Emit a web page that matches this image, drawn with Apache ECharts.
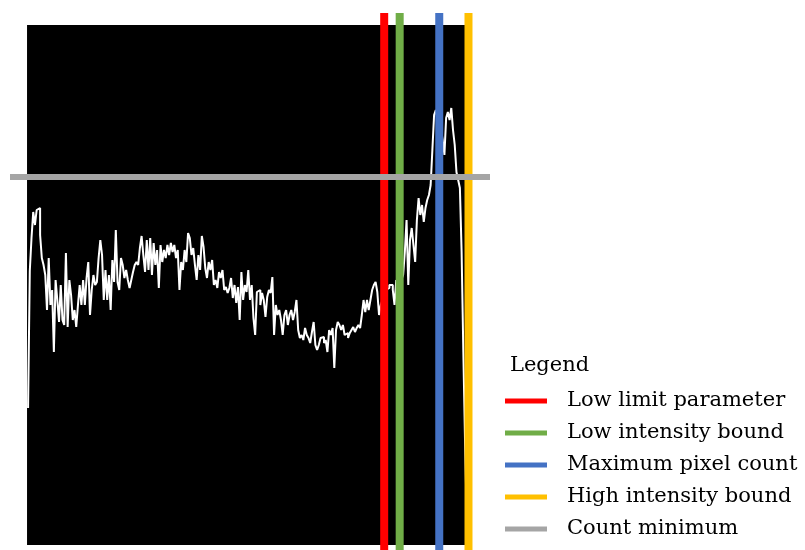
<!DOCTYPE html>
<html>
<head>
<meta charset="utf-8">
<script src="https://cdn.jsdelivr.net/npm/echarts@6/dist/echarts.min.js"></script>
<style>
  html, body { margin: 0; padding: 0; background: #fff; }
  #chart { width: 805px; height: 550px; }
</style>
</head>
<body>
<div id="chart"></div>
<script>
// histogram counts, one per intensity bin (0..255)
var counts = [
  137,274,307,333,320,335,337,310,287,280,270,235,287,240,255,193,265,245,223,260,
  225,220,292,218,265,250,225,235,218,240,260,240,265,240,267,283,230,255,270,260,
  263,287,305,290,245,275,
  245,270,235,285,263,315,263,255,287,280,267,275,265,257,265,273,280,283,280,297,
  309,290,273,305,275,307,270,302,280,295,257,300,283,295,287,300,290,302,293,300,
  287,295,255,283,275,
  295,283,312,307,290,297,280,265,290,275,309,298,277,267,283,275,285,260,265,257,
  273,267,275,255,258,252,257,267,247,260,242,258,225,273,245,260,253,275,245,260,
  227,210,
  253,255,240,252,245,228,248,255,252,268,210,240,230,235,225,210,230,235,220,230,
  235,225,233,245,215,207,210,205,217,210,207,202,213,223,200,195,200,207,208,202,
  205,193,215,
  210,217,177,215,223,220,215,220,210,212,207,212,215,218,213,217,220,217,230,245,
  233,245,235,245,255,260,263,253,230,240,245,250,255,257,260,260,255,240,265,
  255,260,265,270,293,325,260,305,317,300,283,325,347,330,340,323,337,345,350,360,
  395,430,435,425,420,415,405,390,427,433,425,437,415,400,373,365,357,293,193,103,
  25
];

// threshold markers (intensity values) and the count threshold
var markerNames = ['Low limit parameter', 'Low intensity bound', 'Maximum pixel count', 'High intensity bound'];
var markerValues = [207, 216, 239, 256];
var markerColors = ['#FF0000', '#70AD47', '#4472C4', '#FFC000'];
var countMinName = 'Count minimum';
var countMinValue = 368;
var countMinColor = '#A5A5A5';

var chart = echarts.init(document.getElementById('chart'));

var X_MIN = -10.5, X_MAX = 268.5, Y_MIN = -5, Y_MAX = 532;
var font = 'DejaVu Serif';

var histData = counts.map(function (c, i) { return [i, c]; });

var series = [
  {
    name: 'histogram',
    type: 'line',
    step: 'end',
    data: histData,
    showSymbol: false,
    lineStyle: { color: '#ffffff', width: 2 },
    z: 2,
    silent: true,
    markArea: {
      silent: true,
      itemStyle: { color: '#000000', opacity: 1 },
      data: [[{ xAxis: -0.6, yAxis: 0 }, { xAxis: 255.5, yAxis: 520 }]]
    }
  }
];

markerNames.forEach(function (name, k) {
  series.push({
    name: name,
    type: 'line',
    data: [[markerValues[k], Y_MIN], [markerValues[k], Y_MAX]],
    showSymbol: false,
    color: markerColors[k],
    lineStyle: { color: markerColors[k], width: 8 },
    z: 3
  });
});

series.push({
  name: countMinName,
  type: 'line',
  data: [[X_MIN, countMinValue], [X_MAX, countMinValue]],
  showSymbol: false,
  color: countMinColor,
  lineStyle: { color: countMinColor, width: 6 },
  z: 4
});

var option = {
  animation: false,
  backgroundColor: '#ffffff',
  grid: { left: 10, right: 315, top: 13, bottom: 0 },
  title: {
    text: 'Legend',
    left: 510,
    top: 355,
    padding: 0,
    textStyle: { fontFamily: font, fontSize: 21, fontWeight: 'normal', color: '#000' }
  },
  legend: {
    data: markerNames.concat([countMinName]),
    orient: 'vertical',
    left: 505,
    top: 389,
    padding: 0,
    icon: 'rect',
    itemWidth: 42,
    itemHeight: 5,
    itemGap: 8,
    selectedMode: false,
    textStyle: { fontFamily: font, fontSize: 21, color: '#000', lineHeight: 24, padding: [0, 0, 0, 15] }
  },
  xAxis: { type: 'value', min: X_MIN, max: X_MAX, show: false },
  yAxis: { type: 'value', min: Y_MIN, max: Y_MAX, show: false },
  series: series
};

chart.setOption(option);
</script>
</body>
</html>
